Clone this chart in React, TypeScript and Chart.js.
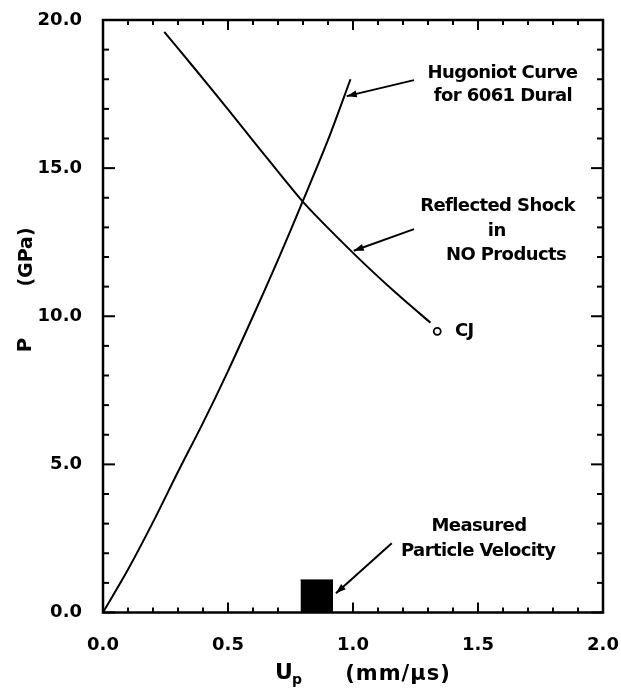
import React, { useEffect, useRef } from "react";
import { Chart, registerables } from "chart.js";

Chart.register(...registerables);

// Hugoniot curve for 6061 Dural
const hugoniotUp = [0, 0.1, 0.2, 0.3, 0.4, 0.5, 0.6, 0.7, 0.8, 0.9, 0.99];
const hugoniotP = [0, 1.45, 3.05, 4.75, 6.4, 8.15, 10.0, 11.9, 13.9, 15.95, 18.0];

// Reflected shock in NO products
const reflectedUp = [0.245, 0.36, 0.5, 0.62, 0.8, 1.0, 1.17, 1.31];
const reflectedP = [19.6, 18.43, 16.98, 15.72, 13.86, 12.14, 10.8, 9.78];

// CJ point
const cjUp = [1.337];
const cjP = [9.49];

// Measured particle velocity (box)
const measuredUp = [0.79, 0.92];
const measuredP = [1.1, 1.1];

// Annotation texts (data coordinates)
const labelText = [
  "Hugoniot Curve",
  "for 6061 Dural",
  "Reflected Shock",
  "in",
  "NO Products",
  "Measured",
  "Particle Velocity",
  "CJ",
];
const labelUp = [1.598, 1.6, 1.578, 1.575, 1.612, 1.504, 1.501, 1.408];
const labelP = [18.2, 17.42, 13.72, 12.86, 12.06, 2.9, 2.05, 9.48];
const labelAlign = ["center", "center", "center", "center", "center", "center", "center", "left"];

// Arrows: tail -> tip (data coordinates)
const arrowTailUp = [1.244, 1.244, 1.155];
const arrowTailP = [17.97, 12.94, 2.34];
const arrowTipUp = [0.975, 1.003, 0.932];
const arrowTipP = [17.43, 12.21, 0.65];

// Axes
const xMin = 0, xMax = 2, xStep = 0.1, xMajor = 0.5;
const yMin = 0, yMax = 20, yStep = 1, yMajor = 5;

const FONT = "'DejaVu Sans', 'Liberation Sans', sans-serif";

const isMult = (v: number, m: number) => Math.abs(v / m - Math.round(v / m)) < 1e-6;

const pts = (xs: number[], ys: number[]) => xs.map((x, i) => ({ x, y: ys[i] }));

const decor = {
  id: "decor",
  afterDraw(chart: any) {
    const { ctx, chartArea: a, scales } = chart;
    const x = scales.x;
    const y = scales.y;
    ctx.save();
    ctx.strokeStyle = "#000";
    ctx.fillStyle = "#000";
    ctx.lineCap = "butt";

    const line = (x1: number, y1: number, x2: number, y2: number) => {
      ctx.beginPath();
      ctx.moveTo(x1, y1);
      ctx.lineTo(x2, y2);
      ctx.stroke();
    };

    // inward ticks
    ctx.lineWidth = 2;
    x.ticks.forEach((t: any) => {
      const px = x.getPixelForValue(t.value);
      const L = isMult(t.value, xMajor) ? 10 : 5;
      line(px, a.bottom, px, a.bottom - L);
      line(px, a.top, px, a.top + L);
    });
    y.ticks.forEach((t: any) => {
      const py = y.getPixelForValue(t.value);
      const L = isMult(t.value, yMajor) ? 12 : 6;
      line(a.left, py, a.left + L, py);
      line(a.right, py, a.right - L, py);
    });

    // frame
    ctx.lineWidth = 2.5;
    ctx.strokeRect(a.left, a.top, a.right - a.left, a.bottom - a.top);

    // arrows
    ctx.lineWidth = 2;
    arrowTailUp.forEach((_, i) => {
      const x1 = x.getPixelForValue(arrowTailUp[i]);
      const y1 = y.getPixelForValue(arrowTailP[i]);
      const x2 = x.getPixelForValue(arrowTipUp[i]);
      const y2 = y.getPixelForValue(arrowTipP[i]);
      line(x1, y1, x2, y2);
      const ang = Math.atan2(y2 - y1, x2 - x1);
      const hl = 10, hw = 3.5;
      ctx.beginPath();
      ctx.moveTo(x2, y2);
      ctx.lineTo(x2 - hl * Math.cos(ang) + hw * Math.sin(ang), y2 - hl * Math.sin(ang) - hw * Math.cos(ang));
      ctx.lineTo(x2 - hl * Math.cos(ang) - hw * Math.sin(ang), y2 - hl * Math.sin(ang) + hw * Math.cos(ang));
      ctx.closePath();
      ctx.fill();
    });

    // annotation texts
    ctx.font = `bold 18px ${FONT}`;
    (ctx as any).letterSpacing = "-0.6px";
    ctx.textBaseline = "middle";
    labelText.forEach((s, i) => {
      ctx.textAlign = labelAlign[i] as CanvasTextAlign;
      ctx.fillText(s, x.getPixelForValue(labelUp[i]), y.getPixelForValue(labelP[i]));
    });

    // axis titles
    (ctx as any).letterSpacing = "0px";
    ctx.textAlign = "center";
    const tx = (a.left + a.right) / 2;
    ctx.font = `bold 22px ${FONT}`;
    ctx.fillText("U", tx - 69, 673);
    ctx.font = `bold 14px ${FONT}`;
    ctx.fillText("p", tx - 56, 680);
    ctx.font = `bold 21px ${FONT}`;
    (ctx as any).letterSpacing = "1px";
    ctx.fillText("(mm/\u03bcs)", tx + 45, 675);
    (ctx as any).letterSpacing = "0px";

    ctx.font = `bold 20px ${FONT}`;
    ctx.save();
    ctx.translate(26, 345);
    ctx.rotate(-Math.PI / 2);
    ctx.fillText("P", 0, 0);
    ctx.restore();
    ctx.font = `bold 19px ${FONT}`;
    ctx.save();
    ctx.translate(27, 257);
    ctx.rotate(-Math.PI / 2);
    ctx.fillText("(GPa)", 0, 0);
    ctx.restore();

    ctx.restore();
  },
};

export default function App() {
  const ref = useRef<HTMLCanvasElement>(null);
  useEffect(() => {
    if (!ref.current) return;
    const chart = new Chart(ref.current, {
      type: "scatter",
      data: {
        datasets: [
          {
            label: "Hugoniot Curve for 6061 Dural",
            data: pts(hugoniotUp, hugoniotP),
            showLine: true,
            borderColor: "#000",
            borderWidth: 2,
            pointRadius: 0,
            tension: 0.3,
          },
          {
            label: "Reflected Shock in NO Products",
            data: pts(reflectedUp, reflectedP),
            showLine: true,
            borderColor: "#000",
            borderWidth: 2,
            pointRadius: 0,
            tension: 0.2,
          },
          {
            label: "CJ",
            data: pts(cjUp, cjP),
            showLine: false,
            pointRadius: 3.5,
            pointBorderWidth: 1.8,
            pointBackgroundColor: "#fff",
            pointBorderColor: "#000",
          },
          {
            label: "Measured Particle Velocity",
            data: pts(measuredUp, measuredP),
            showLine: true,
            borderColor: "#000",
            borderWidth: 1,
            backgroundColor: "#000",
            fill: "origin",
            pointRadius: 0,
          },
        ],
      },
      options: {
        responsive: false,
        animation: false,
        events: [],
        layout: { padding: { left: 0, right: 18, top: 20, bottom: 0 } },
        plugins: {
          legend: { display: false },
          tooltip: { enabled: false },
        },
        scales: {
          x: {
            type: "linear",
            min: xMin,
            max: xMax,
            grid: { display: false, drawTicks: false },
            border: { display: false },
            afterFit: (s: any) => {
              s.height = 80.5;
              s.paddingLeft = 0;
              s.paddingRight = 0;
            },
            ticks: {
              stepSize: xStep,
              autoSkip: false,
              maxRotation: 0,
              padding: 22,
              color: "#000",
              font: { family: FONT, size: 18, weight: "bold" },
              callback: (v: any) => (isMult(Number(v), xMajor) ? Number(v).toFixed(1) : ""),
            },
          },
          y: {
            type: "linear",
            min: yMin,
            max: yMax,
            grid: { display: false, drawTicks: false },
            border: { display: false },
            afterFit: (s: any) => {
              s.width = 103;
              s.paddingTop = 0;
              s.paddingBottom = 0;
            },
            ticks: {
              stepSize: yStep,
              autoSkip: false,
              padding: 21,
              color: "#000",
              font: { family: FONT, size: 18, weight: "bold" },
              callback: (v: any) => (isMult(Number(v), yMajor) ? Number(v).toFixed(1) : ""),
            },
          },
        },
      },
      plugins: [decor],
    });
    return () => chart.destroy();
  }, []);
  return (
    <div style={{ position: "absolute", left: 0, top: 0, width: 621, height: 693, background: "#fff" }}>
      <canvas ref={ref} width={621} height={693} />
    </div>
  );
}
